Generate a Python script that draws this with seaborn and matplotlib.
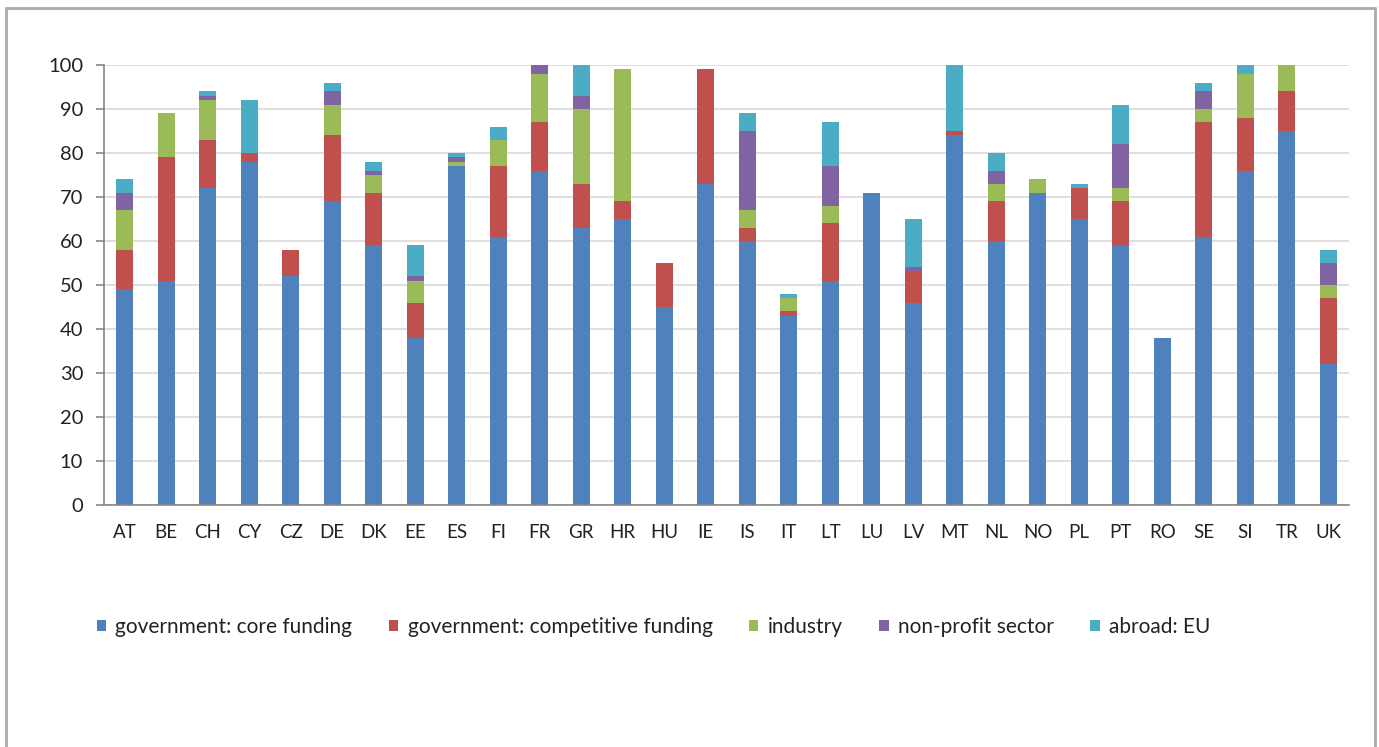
import numpy as np
import pandas as pd
import matplotlib
matplotlib.use("Agg")
import matplotlib.pyplot as plt
from matplotlib.lines import Line2D
import seaborn as sns

# 国家代码
countries = ['AT', 'BE', 'CH', 'CY', 'CZ', 'DE', 'DK', 'EE', 'ES', 'FI',
             'FR', 'GR', 'HR', 'HU', 'IE', 'IS', 'IT', 'LT', 'LU', 'LV',
             'MT', 'NL', 'NO', 'PL', 'PT', 'RO', 'SE', 'SI', 'TR', 'UK']

# 各资金来源的份额 (%)
core_funding = [49, 51, 72, 78, 52, 69, 59, 38, 77, 61,
                76, 63, 65, 45, 73, 60, 43, 51, 71, 46,
                84, 60, 71, 65, 59, 38, 61, 76, 85, 32]
competitive_funding = [9, 28, 11, 2, 6, 15, 12, 8, 0, 16,
                       11, 10, 4, 10, 26, 3, 1, 13, 0, 7,
                       1, 9, 0, 7, 10, 0, 26, 12, 9, 15]
industry = [9, 10, 9, 0, 0, 7, 4, 5, 1, 6,
            11, 17, 30, 0, 0, 4, 3, 4, 0, 0,
            0, 4, 3, 0, 3, 0, 3, 10, 6, 3]
non_profit = [4, 0, 1, 0, 0, 3, 1, 1, 1, 0,
              2, 3, 0, 0, 0, 18, 0, 9, 0, 1,
              0, 3, 0, 0, 10, 0, 4, 0, 0, 5]
abroad_eu = [3, 0, 1, 12, 0, 2, 2, 7, 1, 3,
             0, 7, 0, 0, 0, 4, 1, 10, 0, 11,
             15, 4, 0, 1, 9, 0, 2, 2, 0, 3]

series_names = ['government: core funding', 'government: competitive funding',
                'industry', 'non-profit sector', 'abroad: EU']
colors = ['#4F81BD', '#C0504D', '#9BBB59', '#8064A2', '#4BACC6']

df = pd.DataFrame({
    'country': countries,
    series_names[0]: core_funding,
    series_names[1]: competitive_funding,
    series_names[2]: industry,
    series_names[3]: non_profit,
    series_names[4]: abroad_eu,
})

sns.set_style("white")
plt.rcParams['font.family'] = ['Lato', 'DejaVu Sans']

fig = plt.figure(figsize=(13.79, 7.47), dpi=100)
ax = fig.add_axes([104 / 1379, 1 - 505 / 747, (1349 - 104) / 1379, 440 / 747])

# 堆叠柱状图
bottom = np.zeros(len(countries))
for name, col in zip(series_names, colors):
    sns.barplot(data=df, x='country', y=name, bottom=bottom, color=col,
                saturation=1, width=0.41, errorbar=None, ax=ax, label=name,
                linewidth=0)
    bottom = bottom + df[name].values

ax.set_xlim(-0.5, len(countries) - 0.5)
ax.set_ylim(0, 100)
ax.set_yticks(range(0, 101, 10))
ax.set_xlabel('')
ax.set_ylabel('')

# 网格线和坐标轴
ax.yaxis.grid(True, color='#d9d9d9', linewidth=1.2)
ax.set_axisbelow(True)
for s in ['top', 'right']:
    ax.spines[s].set_visible(False)
for s in ['left', 'bottom']:
    ax.spines[s].set_color('#868686')
    ax.spines[s].set_linewidth(1.2)

ax.tick_params(axis='y', left=True, length=6, width=1.2, color='#868686',
               labelsize=14.5, labelcolor='#222222', pad=9)
ax.tick_params(axis='x', which='major', length=0, labelsize=13.5,
               labelcolor='#222222', pad=14)
ax.set_xticks(np.arange(-0.5, len(countries), 1), minor=True)
ax.tick_params(axis='x', which='minor', length=6, width=1.2, color='#868686')

# 图例 (去掉 seaborn 自动生成的图例)
handles, labels = ax.get_legend_handles_labels()
if ax.get_legend() is not None:
    ax.get_legend().remove()
fig.legend(handles[:5], labels[:5], ncol=5, loc='center left',
           bbox_to_anchor=(80 / 1379, 1 - 627 / 747), frameon=False,
           fontsize=15, handlelength=0.45, handleheight=0.45,
           handletextpad=0.45, columnspacing=1.75, labelcolor='#222222',
           borderpad=0.3)

# 外框
frame_kw = dict(color='#ababab', linewidth=2, transform=fig.transFigure)
fig.add_artist(Line2D([6 / 1379, 6 / 1379], [0, 1 - 8 / 747], **frame_kw))
fig.add_artist(Line2D([1375 / 1379, 1375 / 1379], [0, 1 - 8 / 747], **frame_kw))
fig.add_artist(Line2D([6 / 1379, 1375 / 1379], [1 - 8 / 747, 1 - 8 / 747], **frame_kw))

fig.savefig('out.png', dpi=100)
